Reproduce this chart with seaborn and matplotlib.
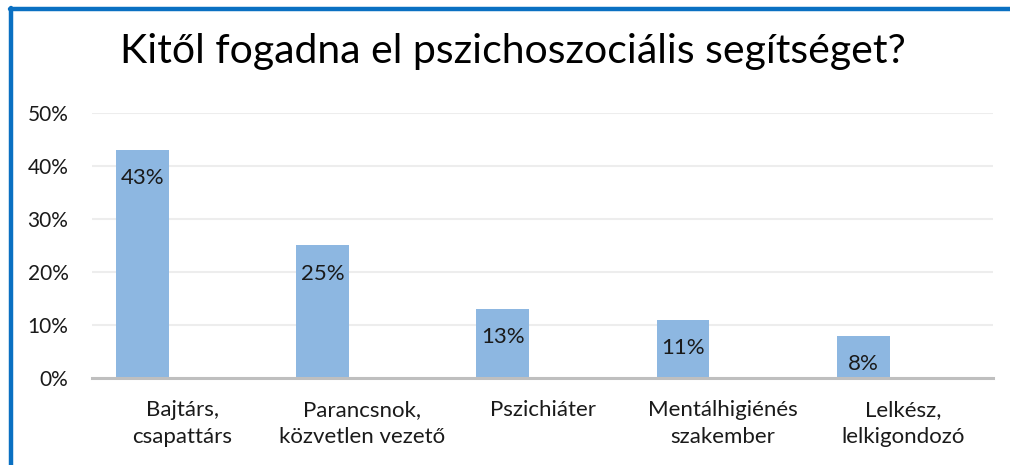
import numpy as np
import pandas as pd
import matplotlib.pyplot as plt
from matplotlib.lines import Line2D
from matplotlib.ticker import PercentFormatter
import seaborn as sns

# ---- data ----
categories = ["Bajtárs,\ncsapattárs", "Parancsnok,\nközvetlen vezető", "Pszichiáter",
              "Mentálhigiénés\nszakember", "Lelkész,\nlelkigondozó"]
shares = [0.43, 0.25, 0.13, 0.11, 0.08]
value_labels = ["43%", "25%", "13%", "11%", "8%"]
title = "Kitől fogadna el pszichoszociális segítséget?"

sns.set_style("white")
plt.rcParams['font.family'] = ['Lato', 'DejaVu Sans']

bar_color = "#8DB7E1"
frame_blue = "#0A70C2"
text_color = "#1a1a1a"

# bars sit left of each category centre (Excel cluster with an empty 2nd series)
pos = np.arange(len(categories)) - 0.22
df = pd.DataFrame({"pos": pos, "share": shares})

fig = plt.figure(figsize=(10.1, 4.65), dpi=100)
ax = fig.add_axes([92 / 1010, 87 / 465, 901 / 1010, 265 / 465])

sns.barplot(data=df, x="pos", y="share", native_scale=True, width=0.293,
            color=bar_color, saturation=1, linewidth=0, ax=ax, zorder=2)

ax.set_xlim(-0.5, len(categories) - 0.5)
ax.set_ylim(0, 0.5)
ax.set_yticks(np.arange(0, 0.51, 0.1))
ax.yaxis.set_major_formatter(PercentFormatter(1.0, decimals=0))
ax.set_xticks(np.arange(len(categories)))
ax.set_xticklabels(categories, fontsize=16, color=text_color, linespacing=1.45)
ax.tick_params(axis="y", labelsize=15, labelcolor=text_color, length=0, pad=17)
ax.tick_params(axis="x", length=0, pad=16)
ax.set_xlabel("")
ax.set_ylabel("")

ax.grid(axis="y", color="#EDEDED", linewidth=1.5, zorder=0)
ax.set_axisbelow(True)
for side in ["left", "right", "top"]:
    ax.spines[side].set_visible(False)
ax.spines["bottom"].set_color("#BFBFBF")
ax.spines["bottom"].set_linewidth(2.2)
ax.spines["bottom"].set_zorder(3)

# value labels inside the top of each bar
for p, v, lab in zip(pos, shares, value_labels):
    ax.annotate(lab, (p, v), xytext=(0, -13), textcoords="offset points",
                ha="center", va="top", fontsize=16, color=text_color)

fig.text(513 / 1010, 1 - 52 / 465, title, ha="center", va="center",
         fontsize=29.5, color="#000000")

# blue frame on the top and left edges
fig.add_artist(Line2D([11 / 1010, 11 / 1010], [0, 1 - 8 / 465], color=frame_blue,
                      linewidth=3.2, transform=fig.transFigure))
fig.add_artist(Line2D([10 / 1010, 1], [1 - 9 / 465, 1 - 9 / 465], color=frame_blue,
                      linewidth=3.2, transform=fig.transFigure))

fig.savefig("out.png", dpi=100)
